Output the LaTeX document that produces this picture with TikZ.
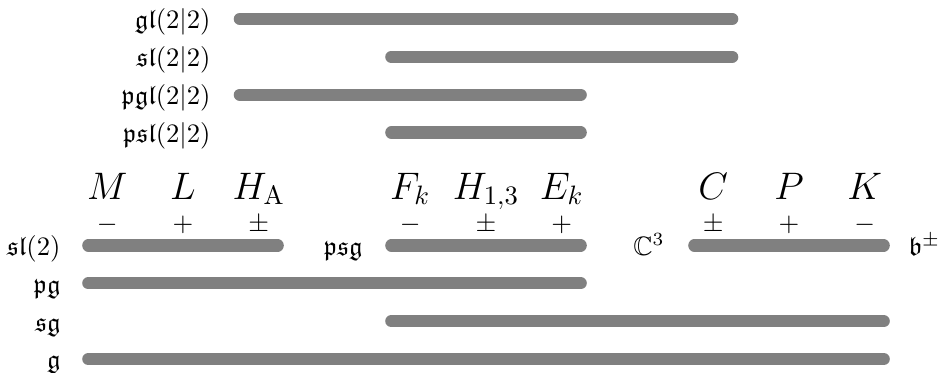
\documentclass[tikz,border=0pt]{standalone}
\usepackage{amsmath,amssymb}
\usetikzlibrary{positioning}
\definecolor{bargray}{RGB}{128,128,128}

\begin{document}
\begin{tikzpicture}[
        bar/.style={draw=bargray,line width=4.6pt,line cap=round},
        alg/.style={anchor=base east,inner sep=0pt},
        algr/.style={anchor=base west,inner sep=0pt},
        gen/.style={anchor=base,inner sep=0pt,font=\Large},
        sgn/.style={anchor=base,inner sep=0pt}
      ]
        \useasboundingbox (-1.416,0) rectangle (11.046,-4.911);
        % superalgebras
        \node[alg] (gl22) at (1.37,-0.38){$\mathfrak{gl}(2|2)$};
        \node[alg] (sl22) at (1.37,-0.88){$\mathfrak{sl}(2|2)$};
        \node[alg] (pgl22) at (1.37,-1.38){$\mathfrak{pgl}(2|2)$};
        \node[alg] (psl22) at (1.37,-1.88){$\mathfrak{psl}(2|2)$};
        \draw[bar](1.75,-0.25)--(8.25,-0.25);
        \draw[bar](3.75,-0.75)--(8.25,-0.75);
        \draw[bar](1.75,-1.25)--(6.25,-1.25);
        \draw[bar](3.75,-1.75)--(6.25,-1.75);
        % generators and their signs
        \foreach \x/\g/\s in {0/M/-,1/L/+,2/{H_{\mathrm{A}}}/\pm,
                              4/F_k/-,5/{H_{1,3}}/\pm,6/E_k/+,
                              8/C/\pm,9/P/+,10/K/-}{
          \node[gen] (g\x) at (\x,-2.63){$\g$};
          \node[sgn] (s\x) at (\x,-3.06){$\s$};
        }
        % subalgebras
        \node[alg] (sl2) at (-0.611,-3.37){$\mathfrak{sl}(2)$};
        \node[alg] (psg) at (3.376,-3.37){$\mathfrak{psg}$};
        \node[alg] (c3) at (7.363,-3.37){$\mathbb{C}^3$};
        \node[algr] (bpm) at (10.571,-3.37){$\mathfrak{b}^\pm$};
        \node[alg] (pg) at (-0.611,-3.87){$\mathfrak{pg}$};
        \node[alg] (sg) at (-0.611,-4.37){$\mathfrak{sg}$};
        \node[alg] (g) at (-0.611,-4.87){$\mathfrak{g}$};
        \draw[bar](-0.25,-3.24)--(2.25,-3.24);
        \draw[bar](3.75,-3.24)--(6.25,-3.24);
        \draw[bar](7.75,-3.24)--(10.25,-3.24);
        \draw[bar](-0.25,-3.74)--(6.25,-3.74);
        \draw[bar](3.75,-4.24)--(10.25,-4.24);
        \draw[bar](-0.25,-4.74)--(10.25,-4.74);
      \end{tikzpicture}
\end{document}
